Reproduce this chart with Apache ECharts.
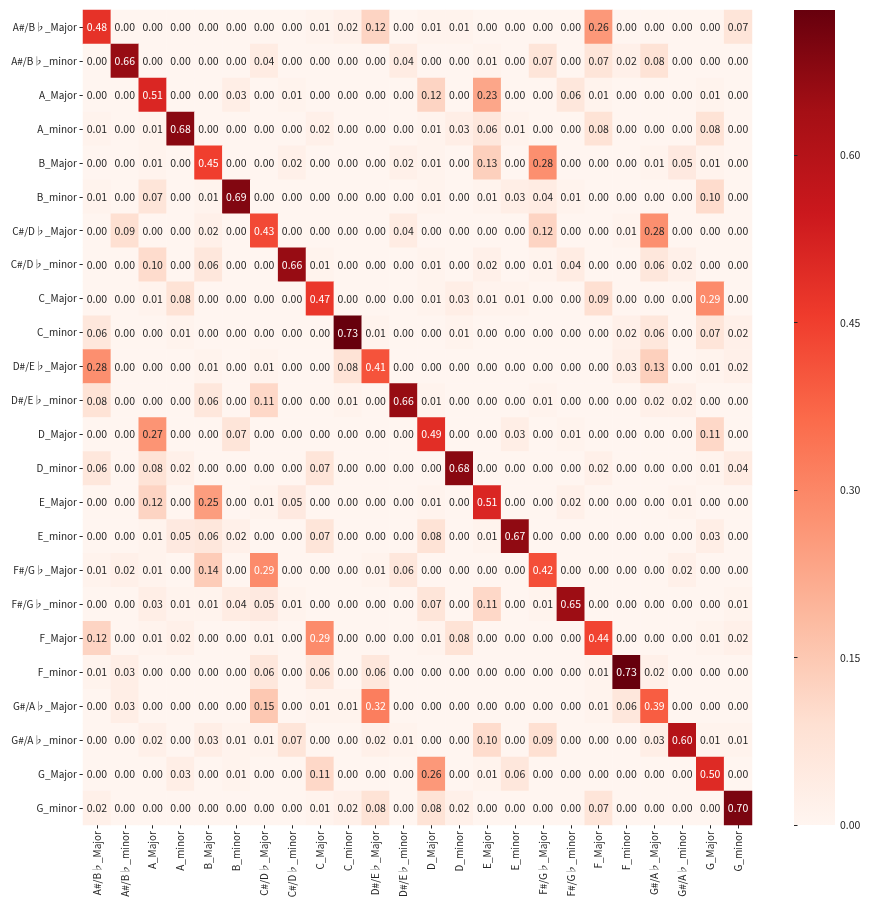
<!DOCTYPE html>
<html>
<head>
<meta charset="utf-8">
<title>Key confusion matrix</title>
<script src="https://cdn.jsdelivr.net/npm/echarts@6/dist/echarts.min.js"></script>
<style>
  html, body { margin: 0; padding: 0; background: #fff; }
  #chart { width: 870px; height: 908px; }
</style>
</head>
<body>
<div id="chart"></div>
<script>
// --- labels ---
const keys = [
  'A#/B♭_Major', 'A#/B♭_minor', 'A_Major', 'A_minor', 'B_Major', 'B_minor',
  'C#/D♭_Major', 'C#/D♭_minor', 'C_Major', 'C_minor', 'D#/E♭_Major', 'D#/E♭_minor',
  'D_Major', 'D_minor', 'E_Major', 'E_minor', 'F#/G♭_Major', 'F#/G♭_minor',
  'F_Major', 'F_minor', 'G#/A♭_Major', 'G#/A♭_minor', 'G_Major', 'G_minor'
]

// --- confusion matrix rows (true key -> predicted key) ---
const rowAsBbMajor = [0.48, 0.00, 0.00, 0.00, 0.00, 0.00, 0.00, 0.00, 0.01, 0.02, 0.12, 0.00, 0.01, 0.01, 0.00, 0.00, 0.00, 0.00, 0.26, 0.00, 0.00, 0.00, 0.00, 0.07]
const rowAsBbMinor = [0.00, 0.66, 0.00, 0.00, 0.00, 0.00, 0.04, 0.00, 0.00, 0.00, 0.00, 0.04, 0.00, 0.00, 0.01, 0.00, 0.07, 0.00, 0.07, 0.02, 0.08, 0.00, 0.00, 0.00]
const rowAMajor = [0.00, 0.00, 0.51, 0.00, 0.00, 0.03, 0.00, 0.01, 0.00, 0.00, 0.00, 0.00, 0.12, 0.00, 0.23, 0.00, 0.00, 0.06, 0.01, 0.00, 0.00, 0.00, 0.01, 0.00]
const rowAMinor = [0.01, 0.00, 0.01, 0.68, 0.00, 0.00, 0.00, 0.00, 0.02, 0.00, 0.00, 0.00, 0.01, 0.03, 0.06, 0.01, 0.00, 0.00, 0.08, 0.00, 0.00, 0.00, 0.08, 0.00]
const rowBMajor = [0.00, 0.00, 0.01, 0.00, 0.45, 0.00, 0.00, 0.02, 0.00, 0.00, 0.00, 0.02, 0.01, 0.00, 0.13, 0.00, 0.28, 0.00, 0.00, 0.00, 0.01, 0.05, 0.01, 0.00]
const rowBMinor = [0.01, 0.00, 0.07, 0.00, 0.01, 0.69, 0.00, 0.00, 0.00, 0.00, 0.00, 0.00, 0.01, 0.00, 0.01, 0.03, 0.04, 0.01, 0.00, 0.00, 0.00, 0.00, 0.10, 0.00]
const rowCsDbMajor = [0.00, 0.09, 0.00, 0.00, 0.02, 0.00, 0.43, 0.00, 0.00, 0.00, 0.00, 0.04, 0.00, 0.00, 0.00, 0.00, 0.12, 0.00, 0.00, 0.01, 0.28, 0.00, 0.00, 0.00]
const rowCsDbMinor = [0.00, 0.00, 0.10, 0.00, 0.06, 0.00, 0.00, 0.66, 0.01, 0.00, 0.00, 0.00, 0.01, 0.00, 0.02, 0.00, 0.01, 0.04, 0.00, 0.00, 0.06, 0.02, 0.00, 0.00]
const rowCMajor = [0.00, 0.00, 0.01, 0.08, 0.00, 0.00, 0.00, 0.00, 0.47, 0.00, 0.00, 0.00, 0.01, 0.03, 0.01, 0.01, 0.00, 0.00, 0.09, 0.00, 0.00, 0.00, 0.29, 0.00]
const rowCMinor = [0.06, 0.00, 0.00, 0.01, 0.00, 0.00, 0.00, 0.00, 0.00, 0.73, 0.01, 0.00, 0.00, 0.01, 0.00, 0.00, 0.00, 0.00, 0.00, 0.02, 0.06, 0.00, 0.07, 0.02]
const rowDsEbMajor = [0.28, 0.00, 0.00, 0.00, 0.01, 0.00, 0.01, 0.00, 0.00, 0.08, 0.41, 0.00, 0.00, 0.00, 0.00, 0.00, 0.00, 0.00, 0.00, 0.03, 0.13, 0.00, 0.01, 0.02]
const rowDsEbMinor = [0.08, 0.00, 0.00, 0.00, 0.06, 0.00, 0.11, 0.00, 0.00, 0.01, 0.00, 0.66, 0.01, 0.00, 0.00, 0.00, 0.01, 0.00, 0.00, 0.00, 0.02, 0.02, 0.00, 0.00]
const rowDMajor = [0.00, 0.00, 0.27, 0.00, 0.00, 0.07, 0.00, 0.00, 0.00, 0.00, 0.00, 0.00, 0.49, 0.00, 0.00, 0.03, 0.00, 0.01, 0.00, 0.00, 0.00, 0.00, 0.11, 0.00]
const rowDMinor = [0.06, 0.00, 0.08, 0.02, 0.00, 0.00, 0.00, 0.00, 0.07, 0.00, 0.00, 0.00, 0.00, 0.68, 0.00, 0.00, 0.00, 0.00, 0.02, 0.00, 0.00, 0.00, 0.01, 0.04]
const rowEMajor = [0.00, 0.00, 0.12, 0.00, 0.25, 0.00, 0.01, 0.05, 0.00, 0.00, 0.00, 0.00, 0.01, 0.00, 0.51, 0.00, 0.00, 0.02, 0.00, 0.00, 0.00, 0.01, 0.00, 0.00]
const rowEMinor = [0.00, 0.00, 0.01, 0.05, 0.06, 0.02, 0.00, 0.00, 0.07, 0.00, 0.00, 0.00, 0.08, 0.00, 0.01, 0.67, 0.00, 0.00, 0.00, 0.00, 0.00, 0.00, 0.03, 0.00]
const rowFsGbMajor = [0.01, 0.02, 0.01, 0.00, 0.14, 0.00, 0.29, 0.00, 0.00, 0.00, 0.01, 0.06, 0.00, 0.00, 0.00, 0.00, 0.42, 0.00, 0.00, 0.00, 0.00, 0.02, 0.00, 0.00]
const rowFsGbMinor = [0.00, 0.00, 0.03, 0.01, 0.01, 0.04, 0.05, 0.01, 0.00, 0.00, 0.00, 0.00, 0.07, 0.00, 0.11, 0.00, 0.01, 0.65, 0.00, 0.00, 0.00, 0.00, 0.00, 0.01]
const rowFMajor = [0.12, 0.00, 0.01, 0.02, 0.00, 0.00, 0.01, 0.00, 0.29, 0.00, 0.00, 0.00, 0.01, 0.08, 0.00, 0.00, 0.00, 0.00, 0.44, 0.00, 0.00, 0.00, 0.01, 0.02]
const rowFMinor = [0.01, 0.03, 0.00, 0.00, 0.00, 0.00, 0.06, 0.00, 0.06, 0.00, 0.06, 0.00, 0.00, 0.00, 0.00, 0.00, 0.00, 0.00, 0.01, 0.73, 0.02, 0.00, 0.00, 0.00]
const rowGsAbMajor = [0.00, 0.03, 0.00, 0.00, 0.00, 0.00, 0.15, 0.00, 0.01, 0.01, 0.32, 0.00, 0.00, 0.00, 0.00, 0.00, 0.00, 0.00, 0.01, 0.06, 0.39, 0.00, 0.00, 0.00]
const rowGsAbMinor = [0.00, 0.00, 0.02, 0.00, 0.03, 0.01, 0.01, 0.07, 0.00, 0.00, 0.02, 0.01, 0.00, 0.00, 0.10, 0.00, 0.09, 0.00, 0.00, 0.00, 0.03, 0.60, 0.01, 0.01]
const rowGMajor = [0.00, 0.00, 0.00, 0.03, 0.00, 0.01, 0.00, 0.00, 0.11, 0.00, 0.00, 0.00, 0.26, 0.00, 0.01, 0.06, 0.00, 0.00, 0.00, 0.00, 0.00, 0.00, 0.50, 0.00]
const rowGMinor = [0.02, 0.00, 0.00, 0.00, 0.00, 0.00, 0.00, 0.00, 0.01, 0.02, 0.08, 0.00, 0.08, 0.02, 0.00, 0.00, 0.00, 0.00, 0.07, 0.00, 0.00, 0.00, 0.00, 0.70]

const matrix = [
  rowAsBbMajor, rowAsBbMinor, rowAMajor, rowAMinor, rowBMajor, rowBMinor,
  rowCsDbMajor, rowCsDbMinor, rowCMajor, rowCMinor, rowDsEbMajor, rowDsEbMinor,
  rowDMajor, rowDMinor, rowEMajor, rowEMinor, rowFsGbMajor, rowFsGbMinor,
  rowFMajor, rowFMinor, rowGsAbMajor, rowGsAbMinor, rowGMajor, rowGMinor
]

// --- colour bar ---
const colorMin = 0
const colorMax = 0.73
const colorTicks = [0, 0.15, 0.30, 0.45, 0.60]

// matplotlib "Reds"
const reds = ['#fff5f0', '#fee0d2', '#fcbba1', '#fc9272', '#fb6a4a', '#ef3b2c', '#cb181d', '#a50f15', '#67000d']

const font = '"Noto Sans CJK JP", "Noto Sans", sans-serif'
const textDark = '#262626'

const cells = []
matrix.forEach((row, r) => {
  row.forEach((v, c) => {
    cells.push({
      value: [c, r, v],
      label: {color: v >= 0.29 ? '#ffffff' : textDark}
    })
  })
})

const chart = echarts.init(document.getElementById('chart'))

// heatmap area and colour bar box (pixels)
const hm = {left: 83, top: 10, width: 669, height: 815}
const cb = {left: 794, top: 10, width: 41, height: 815}

chart.setOption({
  animation: false,
  textStyle: {fontFamily: font},
  grid: [
    {left: hm.left, top: hm.top, width: hm.width, height: hm.height},
    {left: cb.left, top: cb.top, width: cb.width, height: cb.height}
  ],
  xAxis: [
    {
      type: 'category',
      data: keys,
      gridIndex: 0,
      axisLine: {show: false},
      axisTick: {show: true, length: 3.5, alignWithLabel: true, lineStyle: {color: textDark}},
      axisLabel: {rotate: 90, fontSize: 10, color: textDark, margin: 6, fontFamily: font, interval: 0},
      splitArea: {show: false}
    },
    {type: 'value', gridIndex: 1, show: false, min: 0, max: 1}
  ],
  yAxis: [
    {
      type: 'category',
      data: keys,
      inverse: true,
      gridIndex: 0,
      axisLine: {show: false},
      axisTick: {show: true, length: 3.5, alignWithLabel: true, lineStyle: {color: textDark}},
      axisLabel: {fontSize: 10, color: textDark, margin: 6, fontFamily: font, interval: 0},
      splitArea: {show: false}
    },
    {
      type: 'value',
      gridIndex: 1,
      position: 'right',
      min: colorMin,
      max: colorMax,
      axisLine: {show: false},
      splitLine: {show: false},
      axisTick: {show: true, length: 3.5, customValues: colorTicks, lineStyle: {color: textDark}},
      axisLabel: {fontSize: 10.5, color: textDark, margin: 5, fontFamily: font,
        customValues: colorTicks, formatter: v => v.toFixed(2)}
    }
  ],
  visualMap: {
    show: false,
    type: 'continuous',
    seriesIndex: 0,
    min: colorMin,
    max: colorMax,
    inRange: {color: reds}
  },
  graphic: [{
    type: 'rect',
    z: 0,
    shape: {x: cb.left, y: cb.top, width: cb.width, height: cb.height},
    style: {
      fill: new echarts.graphic.LinearGradient(0, 1, 0, 0,
        reds.map((c, i) => ({offset: i / (reds.length - 1), color: c})))
    }
  }],
  series: [{
    type: 'heatmap',
    xAxisIndex: 0,
    yAxisIndex: 0,
    data: cells,
    label: {
      show: true,
      fontSize: 10.5,
      fontFamily: font,
      formatter: p => p.value[2].toFixed(2)
    },
    itemStyle: {borderWidth: 0},
    emphasis: {disabled: true}
  }]
})
</script>
</body>
</html>
